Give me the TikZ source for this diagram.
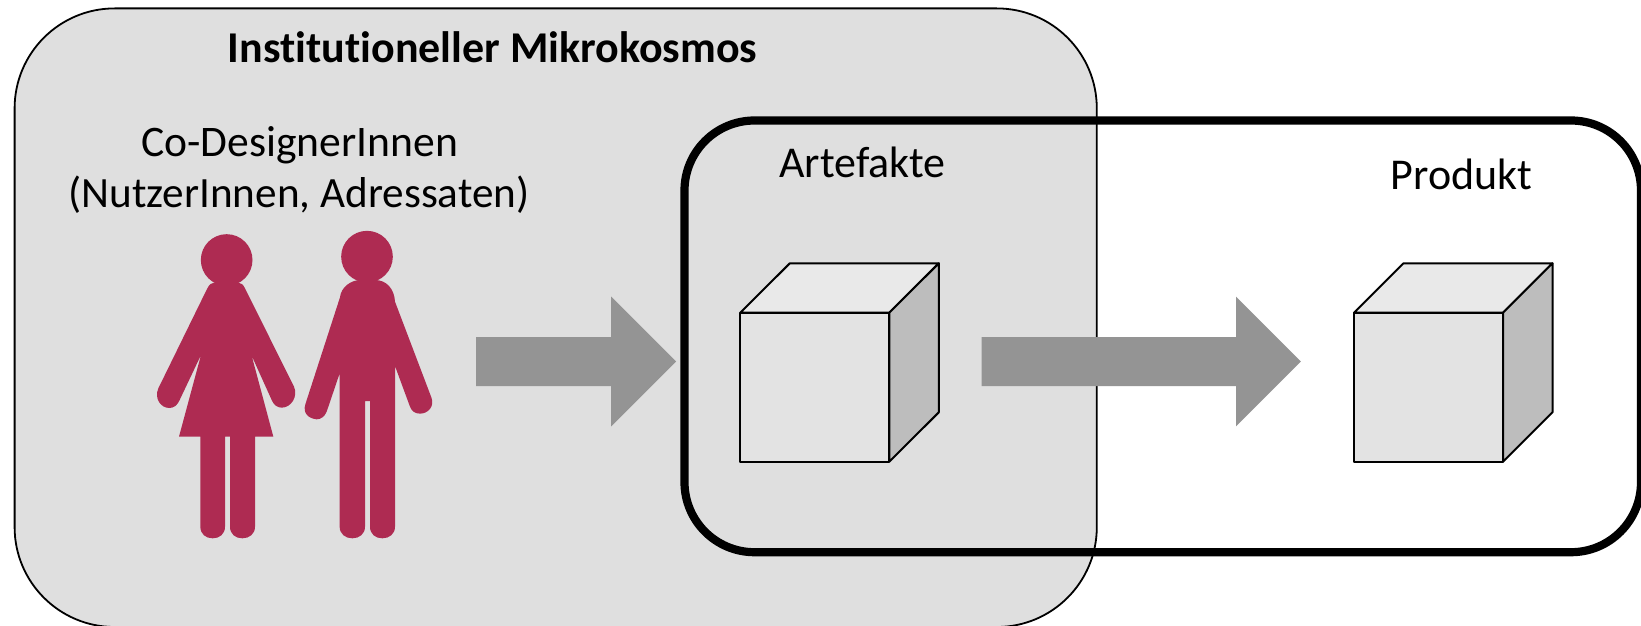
\documentclass[tikz,border=0pt]{standalone}
\usepackage{fontspec}
\setmainfont[Ligatures=NoCommon]{Carlito}
\definecolor{panelgray}{HTML}{DFDFDF}
\definecolor{arrowgray}{HTML}{949494}
\definecolor{maroon}{HTML}{AE2B52}
\definecolor{cubefront}{HTML}{E3E3E3}
\definecolor{cubetop}{HTML}{E9E9E9}
\definecolor{cubeside}{HTML}{BDBDBD}
\tikzset{
  panel/.style={draw=black,line width=1.8pt,fill=panelgray,rounded corners=100pt},
  thickpanel/.style={draw=black,line width=8.2pt,rounded corners=70pt},
  blockarrow/.style={fill=arrowgray},
  person/.style={fill=maroon},
  cubeface/.style={draw=black,line width=2pt,line join=round},
  label/.style={inner sep=0pt,anchor=base,font=\fontsize{44}{44}\selectfont},
  pics/cube/.style={code={
    \path[cubeface,fill=cubefront] (0,0) rectangle (149,149);
    \path[cubeface,fill=cubetop] (0,0) -- (49.5,-49.4) -- (198.5,-49.4) -- (149,0) -- cycle;
    \path[cubeface,fill=cubeside] (149,0) -- (198.5,-49.4) -- (198.5,99.6) -- (149,149) -- cycle;
  }}
}
\begin{document}
\begin{tikzpicture}[x=1pt,y=-1pt]
\useasboundingbox (0,0) rectangle (1641,626);
\fill[white] (0,0) rectangle (1641,626);
\begin{scope}
\clip (0,0) rectangle (1641,626);
\draw[panel] (14.6,8.4) rectangle (1096.8,627);
\draw[thickpanel] (684.5,120.5) rectangle (1641,552.2);
\end{scope}
% block arrows
\fill[blockarrow] (476.2,337.2) -- (611.2,337.2) -- (611.2,296.6) -- (676,361.5) -- (611.2,426.3) -- (611.2,386) -- (476.2,386) -- cycle;
\fill[blockarrow] (981.7,337.2) -- (1236,337.2) -- (1236,296.6) -- (1300.9,361.5) -- (1236,426.3) -- (1236,386) -- (981.7,386) -- cycle;
% cubes
\pic at (740.3,312.7) {cube};
\pic at (1354,312.7) {cube};
% people
\begin{scope}[shift={(130,210)},x=0.33333pt,y=-0.33333pt]
  \fill[person] (290,150) circle[radius=77.5];
  \fill[person] (711,140) circle[radius=77.5];
  \fill[person] (232,235) .. controls (238,224) and (244,218) .. (252,218) -- (325,218)
    .. controls (333,218) and (340,224) .. (345,235) -- (492,530)
    .. controls (505,560) and (483,593) .. (455,593) .. controls (442,593) and (432,585) .. (426,572)
    -- (365,437) -- (430,680) -- (375,680) -- (375,950)
    .. controls (375,972) and (358,985) .. (337,985) .. controls (316,985) and (300,972) .. (300,950)
    -- (300,680) -- (285,680) -- (285,950)
    .. controls (285,972) and (269,985) .. (248,985) .. controls (227,985) and (211,972) .. (211,950)
    -- (211,680) -- (147,680) -- (213,435) -- (148,572)
    .. controls (142,585) and (132,594) .. (118,594) .. controls (92,594) and (72,565) .. (85,535) -- cycle;
  \fill[person] (630,262) .. controls (633,232) and (662,210) .. (692,210) -- (735,210)
    .. controls (768,210) and (793,235) .. (795,275) -- (904,562)
    .. controls (915,590) and (893,611) .. (870,611) .. controls (855,611) and (845,603) .. (840,590)
    -- (795,468) -- (795,950)
    .. controls (795,972) and (778,985) .. (757,985) .. controls (736,985) and (720,972) .. (720,950)
    -- (720,573) -- (705,573) -- (705,950)
    .. controls (705,972) and (688,985) .. (667,985) .. controls (646,985) and (629,972) .. (629,950)
    -- (629,490) -- (590,605) .. controls (584,620) and (572,628) .. (560,628)
    .. controls (535,625) and (518,610) .. (526,583) -- cycle;
\end{scope}
% labels
\node[label,font=\fontsize{44}{44}\selectfont\bfseries] (title) at (492.5,62.5) {Institutioneller Mikrokosmos};
\node[label,font=\fontsize{43.6}{44}\selectfont] (codesigner) at (299.5,156) {Co-DesignerInnen};
\node[label,font=\fontsize{43.2}{44}\selectfont] (nutzer) at (299,207) {(NutzerInnen, Adressaten)};
\node[label] (artefakte) at (862.5,177) {Artefakte};
\node[label] (produkt) at (1461.5,189) {Produkt};
\end{tikzpicture}
\end{document}
